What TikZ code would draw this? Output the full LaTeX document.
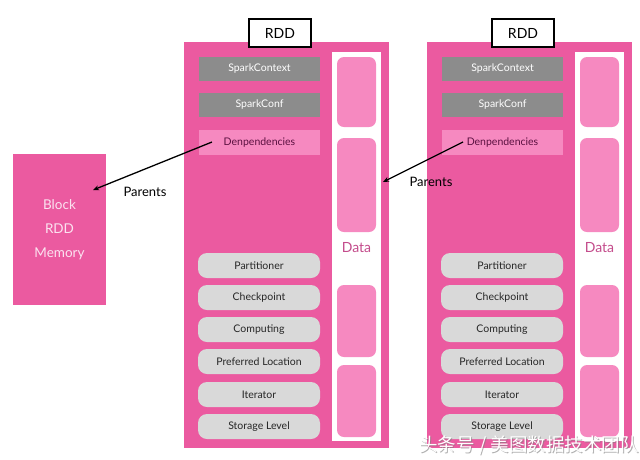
\documentclass[tikz,border=0pt]{standalone}
\usepackage{fontspec}
\setmainfont{Lato}
\newfontfamily\cjk{Noto Sans CJK SC}
\usetikzlibrary{arrows.meta}
\definecolor{pinkbg}{HTML}{EB5AA0}
\definecolor{pinklight}{HTML}{F689C0}
\definecolor{graybar}{HTML}{8C8C8C}
\definecolor{graylight}{HTML}{D9D9D9}
\definecolor{deptext}{HTML}{5A1040}
\definecolor{datatext}{HTML}{C44C8C}
\definecolor{blocktext}{HTML}{FBE3F0}
\tikzset{
  container/.style={rectangle, fill=pinkbg, draw=none, minimum width=205pt, minimum height=406pt, inner sep=0pt},
  rddlabel/.style={rectangle, fill=white, draw=black, line width=2.4pt, minimum width=62pt, minimum height=28pt, inner sep=0pt, font=\fontsize{14}{16}\selectfont},
  darkbar/.style={rectangle, fill=graybar, minimum width=121pt, minimum height=24pt, inner sep=0pt, text=white, font=\fontsize{10.5}{12}\selectfont},
  depbar/.style={rectangle, fill=pinklight, minimum width=121pt, minimum height=25pt, inner sep=0pt, text=deptext, font=\fontsize{10.5}{12}\selectfont},
  datacol/.style={rectangle, fill=white, minimum width=49pt, minimum height=389pt, inner sep=0pt},
  databox/.style={rectangle, rounded corners=7pt, fill=pinklight, minimum width=39pt, inner sep=0pt},
  datalabel/.style={text=datatext, font=\fontsize{14}{16}\selectfont, inner sep=0pt},
  attrbox/.style={rectangle, rounded corners=9pt, fill=graylight, minimum width=122pt, minimum height=25pt, inner sep=0pt, text=black!85, font=\fontsize{10.5}{12}\selectfont},
  blockbox/.style={rectangle, fill=pinkbg, minimum width=93pt, minimum height=151pt, inner sep=0pt, text=blocktext, align=center, font=\fontsize{13.5}{24}\selectfont},
  parentlabel/.style={font=\fontsize{13}{15}\selectfont, inner sep=0pt},
  parentarrow/.style={-{Stealth[length=6pt,width=5pt]}, line width=1.3pt, black},
  watermark/.style={font=\cjk\fontsize{18.5}{20}\selectfont, inner sep=0pt},
}
\newcommand\rddcolumn{%
  \node[container] (box) at (286.5,245) {};
  \node[rddlabel] (rdd) at (280,33) {RDD};
  \node[darkbar] (sc) at (259.5,68.5) {SparkContext};
  \node[darkbar] (conf) at (259.5,105) {SparkConf};
  \node[depbar] (dep) at (259.5,142.5) {Denpendencies};
  \node[datacol] (col) at (356.5,246.5) {};
  \node[databox, minimum height=70pt] (d1) at (356.5,92) {};
  \node[databox, minimum height=94pt] (d2) at (356.5,185) {};
  \node[databox, minimum height=72pt] (d3) at (356.5,321) {};
  \node[databox, minimum height=72pt] (d4) at (356.5,401) {};
  \node[datalabel] (data) at (356.5,248) {Data};
  \node[attrbox] (part) at (259,265.5) {Partitioner};
  \node[attrbox] (chk) at (259,297.5) {Checkpoint};
  \node[attrbox] (comp) at (259,329.5) {Computing};
  \node[attrbox] (pref) at (259,361.5) {Preferred Location};
  \node[attrbox] (iter) at (259,394.5) {Iterator};
  \node[attrbox] (stor) at (259,426.5) {Storage Level};
}
\begin{document}
\begin{tikzpicture}[x=1pt,y=-1pt]
  \useasboundingbox (0,0) rectangle (640,459);
  \fill[white] (0,0) rectangle (640,459);
  \begin{scope}[name prefix=l-]
    \rddcolumn
  \end{scope}
  \begin{scope}[xshift=243pt, name prefix=r-]
    \rddcolumn
  \end{scope}
  \node[blockbox] (block) at (59.5,229.5) {Block\\RDD\\Memory};
  % arrows
  \coordinate (ls) at (212,142);
  \coordinate (lt) at (93,190);
  \coordinate (rs) at (463,142);
  \coordinate (rt) at (383,182);
  \draw[parentarrow] (ls) -- (lt);
  \draw[parentarrow] (rs) -- (rt);
  \node[parentlabel] (lp) at (145,192) {Parents};
  \node[parentlabel] (rp) at (431,182) {Parents};
  % watermark
  \node[watermark, text=black!50, opacity=0.6] (wms) at (530,446) {头条号 / 美图数据技术团队};
  \node[watermark, text=white] (wm) at (529,445) {头条号 / 美图数据技术团队};
\end{tikzpicture}
\end{document}
